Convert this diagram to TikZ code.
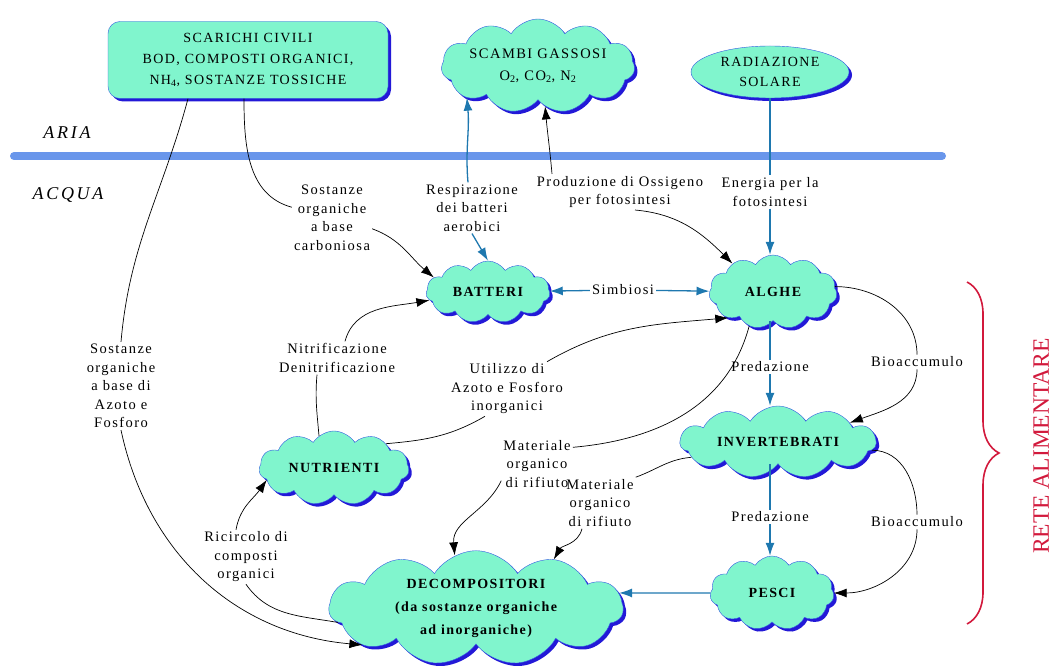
\documentclass[tikz,border=0pt]{standalone}
\usepackage{fontspec}
\setmainfont{Liberation Serif}
\newfontfamily\diafont{Liberation Serif}[LetterSpace=10]
\newfontfamily\zonefont{Liberation Serif}[LetterSpace=15]
\usepackage{tikz}
\usetikzlibrary{shapes.symbols, shapes.geometric, shadows, arrows.meta, decorations.pathreplacing}
\definecolor{cloudfill}{RGB}{128, 245, 205}
\definecolor{cloudline}{RGB}{50, 90, 225}
\definecolor{cloudshade}{RGB}{35, 25, 215}
\definecolor{waterblue}{RGB}{105, 150, 235}
\definecolor{flowblue}{RGB}{30, 120, 175}
\definecolor{foodred}{RGB}{210, 25, 60}

\begin{document}
\begin{tikzpicture}[x=1pt, y=1pt,
  >={Latex[length=13pt,width=9pt]},
  blueshadow/.style={drop shadow={shadow xshift=3pt, shadow yshift=-3pt, fill=cloudshade, opacity=1}},
  blob/.style={cloud, cloud puffs=11, cloud puff arc=115, cloud ignores aspect,
    draw=cloudline, fill=cloudfill, blueshadow, align=center, inner sep=0pt,
    font=\diafont\bfseries\fontsize{14}{18}\selectfont},
  lbl/.style={font=\diafont\fontsize{14.5}{18.5}\selectfont, align=center, inner sep=2pt},
  zone/.style={font=\zonefont\itshape\fontsize{18}{20}\selectfont},
  blk/.style={black, line width=0.7pt},
  blu/.style={flowblue, line width=1.3pt}]
\useasboundingbox (0,0) rectangle (1054,670);

% Air and water
\draw[waterblue, line width=8pt, line cap=round] (14,514) -- (942,514);
\node[zone] (aria) at (67,537) {ARIA};
\node[zone] (acqua) at (68,475) {ACQUA};

% Sources
\node[draw=cloudline, fill=cloudfill, rounded corners=12pt, blueshadow, minimum width=280pt, minimum height=77pt,
  align=center, font=\diafont\fontsize{14}{21}\selectfont] (scarichi) at (248,610)
  {SCARICHI CIVILI\\BOD, COMPOSTI ORGANICI,\\NH\textsubscript{4}, SOSTANZE TOSSICHE};
\node[blob, minimum width=184pt, minimum height=94pt, font=\diafont\fontsize{14.5}{22}\selectfont] (scambi) at (538,604)
  {SCAMBI GASSOSI\\O\textsubscript{2}, CO\textsubscript{2}, N\textsubscript{2}};
\node[ellipse, draw=cloudline, fill=cloudfill, blueshadow, minimum width=158pt, minimum height=52pt,
  align=center, font=\diafont\fontsize{14}{20}\selectfont] (radiazione) at (770,598) {RADIAZIONE\\SOLARE};

% Organisms
\node[blob, minimum width=124pt, minimum height=62pt] (batteri) at (488,378) {BATTERI};
\node[blob, minimum width=128pt, minimum height=74pt] (alghe) at (773,378) {ALGHE};
\node[blob, minimum width=196pt, minimum height=72pt] (invert) at (778,228) {INVERTEBRATI};
\node[blob, minimum width=124pt, minimum height=74pt] (pesci) at (772,77) {PESCI};
\node[blob, minimum width=150pt, minimum height=74pt] (nutrienti) at (334,202) {NUTRIENTI};
\node[blob, minimum width=294pt, minimum height=104pt, font=\diafont\bfseries\fontsize{14}{23}\selectfont] (decomp) at (476,62)
  {DECOMPOSITORI\\(da sostanze organiche\\ad inorganiche)};

% Labels
\node[lbl] (sostC) at (332,452) {Sostanze\\organiche\\a base\\carboniosa};
\node[lbl] (sostAF) at (121,284) {Sostanze\\organiche\\a base di\\Azoto e\\Fosforo};
\node[lbl] (resp) at (472,462) {Respirazione\\dei batteri\\aerobici};
\node[lbl] (prod) at (620,478) {Produzione di Ossigeno\\per fotosintesi};
\node[lbl] (energia) at (770,478) {Energia per la\\fotosintesi};
\node[lbl] (simb) at (623,380) {Simbiosi};
\node[lbl] (nitri) at (337,312) {Nitrificazione\\Denitrificazione};
\node[lbl] (utilizzo) at (507,281) {Utilizzo di\\Azoto e Fosforo\\inorganici};
\node[lbl] (mat1) at (537,206) {Materiale\\organico\\di rifiuto};
\node[lbl] (mat2) at (600,167) {Materiale\\organico\\di rifiuto};
\node[lbl] (pred1) at (770,303) {Predazione};
\node[lbl] (pred2) at (770,153) {Predazione};
\node[lbl] (bio1) at (917,308) {Bioaccumulo};
\node[lbl] (bio2) at (917,148) {Bioaccumulo};
\node[lbl] (ricircolo) at (246,113) {Ricircolo di\\composti\\organici};

% From the sewage
\draw[blk] ([xshift=-4pt]scarichi.south) to[out=-90, in=165] (sostC.165);
\draw[blk,->] (sostC.-15) to[out=-20, in=140] (batteri.165);
\draw[blk] ([xshift=-60pt]scarichi.south) to[out=-105, in=85] (sostAF.north);
\draw[blk,->] (sostAF.south) to[out=-78, in=175] (decomp.198);

% Gas exchange and light
\draw[blu,->] ([xshift=-4pt]resp.north) to[out=95, in=-85] (scambi.204);
\draw[blu,->] (resp.south) -- (batteri.north);
\draw[blk,->] ([xshift=-68pt]prod.north) to[out=95, in=-85] (scambi.-80);
\draw[blk,->] ([xshift=15pt]prod.south) to[out=-5, in=135] (alghe.145);
\draw[blu] (radiazione.south) -- (energia.north);
\draw[blu,->] (energia.south) -- (energia.south |- alghe.north);
\draw[blu,->] (simb) -- (batteri);
\draw[blu,->] (simb) -- (alghe);

% Nutrients
\draw[blk] ([xshift=-20pt]nitri.south) to[out=-95, in=95] (nutrienti.115);
\draw[blk,->] ([xshift=8pt]nitri.north) to[out=75, in=190] (batteri.188);
\draw[blk] (nutrienti.25) to[out=5, in=-150] ([xshift=-22pt]utilizzo.south);
\draw[blk,->] ([xshift=40pt]utilizzo.north) to[out=30, in=185] (alghe.210);

% Waste
\draw[blk] (alghe.-125) to[out=-105, in=5] (mat1.25);
\draw[blk,->] (mat1.205) to[out=-115, in=95] (decomp.112);
\draw[blk] (invert.190) to[out=185, in=20] (mat2.north east);
\draw[blk,->] ([xshift=-18pt]mat2.south) to[out=-105, in=60] (decomp.32);
\draw[blk] (decomp.186) to[out=170, in=-55] (ricircolo.south);
\draw[blk,->] ([xshift=-10pt]ricircolo.north) to[out=80, in=-125] (nutrienti.190);

% Food web
\draw[blu] (alghe.south -| pred1) -- (pred1.north);
\draw[blu,->] (pred1.south) -- (pred1.south |- invert.north);
\draw[blu] (invert.south -| pred2) -- (pred2.north);
\draw[blu,->] (pred2.south) -- (pred2.south |- pesci.north);
\draw[blk] (alghe.5) to[out=0, in=90] (bio1.north);
\draw[blk,->] (bio1.south) to[out=-90, in=20] (invert.15);
\draw[blk] (invert.-5) to[out=0, in=90] (bio2.north);
\draw[blk,->] (bio2.south) to[out=-90, in=0] (pesci.east);
\draw[blu,->] (pesci) -- (decomp.6);

% Brace
\draw[foodred, line width=1.6pt, decorate, decoration={brace, amplitude=32pt}] (967,388) -- (967,46);
\node[foodred, rotate=90, font=\fontsize{23.5}{28}\selectfont] (rete) at (1041,224) {RETE ALIMENTARE};
\end{tikzpicture}
\end{document}
